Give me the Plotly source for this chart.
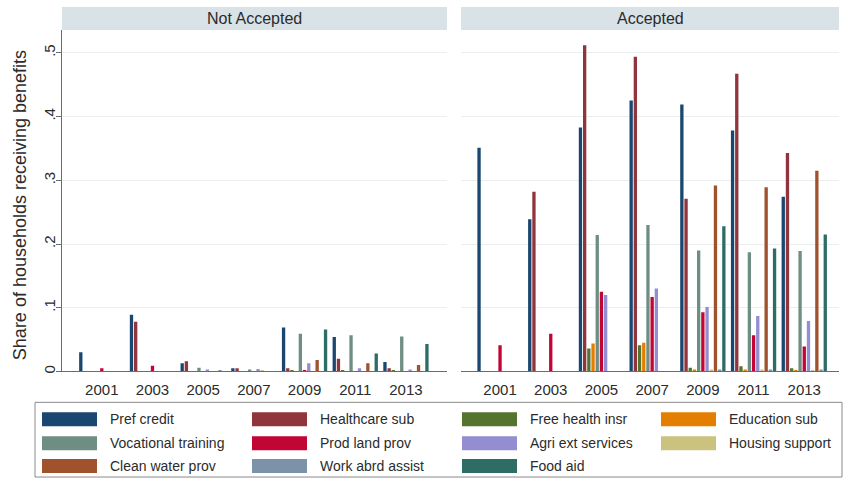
import plotly.graph_objects as go

# Survey years and benefit programmes
years = [2001, 2003, 2005, 2007, 2009, 2011, 2013]
programmes = [
    "Pref credit", "Healthcare sub", "Free health insr", "Education sub",
    "Vocational training", "Prod land prov", "Agri ext services", "Housing support",
    "Clean water prov", "Work abrd assist", "Food aid",
]
colors = [
    "#1a476f", "#90353b", "#55752f", "#e37e00",
    "#6e8e84", "#c10534", "#938dd2", "#cac27e",
    "#a0522d", "#7b92a8", "#2d6d66",
]

# Share of households receiving each benefit, by year
not_accepted = {
    "Pref credit":         [0.030, 0.089, 0.013, 0.005, 0.069, 0.054, 0.015],
    "Healthcare sub":      [0.000, 0.078, 0.016, 0.005, 0.005, 0.020, 0.005],
    "Free health insr":    [0.000, 0.000, 0.000, 0.000, 0.001, 0.001, 0.001],
    "Education sub":       [0.000, 0.000, 0.000, 0.000, 0.000, 0.000, 0.000],
    "Vocational training": [0.000, 0.000, 0.006, 0.003, 0.059, 0.057, 0.055],
    "Prod land prov":      [0.005, 0.009, 0.000, 0.000, 0.002, 0.000, 0.000],
    "Agri ext services":   [0.000, 0.000, 0.003, 0.004, 0.013, 0.005, 0.003],
    "Housing support":     [0.000, 0.000, 0.000, 0.002, 0.000, 0.000, 0.000],
    "Clean water prov":    [0.000, 0.000, 0.000, 0.000, 0.018, 0.013, 0.010],
    "Work abrd assist":    [0.000, 0.000, 0.002, 0.000, 0.000, 0.000, 0.000],
    "Food aid":            [0.000, 0.000, 0.000, 0.000, 0.066, 0.028, 0.043],
}
accepted = {
    "Pref credit":         [0.351, 0.239, 0.383, 0.425, 0.419, 0.378, 0.274],
    "Healthcare sub":      [0.000, 0.282, 0.512, 0.494, 0.271, 0.467, 0.343],
    "Free health insr":    [0.000, 0.000, 0.036, 0.041, 0.006, 0.008, 0.005],
    "Education sub":       [0.000, 0.000, 0.044, 0.045, 0.003, 0.003, 0.002],
    "Vocational training": [0.000, 0.000, 0.214, 0.230, 0.190, 0.187, 0.189],
    "Prod land prov":      [0.041, 0.059, 0.125, 0.117, 0.093, 0.057, 0.039],
    "Agri ext services":   [0.000, 0.000, 0.120, 0.130, 0.101, 0.087, 0.079],
    "Housing support":     [0.000, 0.000, 0.000, 0.000, 0.003, 0.003, 0.002],
    "Clean water prov":    [0.000, 0.000, 0.000, 0.000, 0.292, 0.289, 0.315],
    "Work abrd assist":    [0.000, 0.000, 0.000, 0.000, 0.003, 0.003, 0.003],
    "Food aid":            [0.000, 0.000, 0.000, 0.000, 0.228, 0.193, 0.215],
}
panel_titles = ["Not Accepted", "Accepted"]
y_ticks = [0, 0.1, 0.2, 0.3, 0.4, 0.5]
y_ticktext = ["0", ".1", ".2", ".3", ".4", ".5"]

W, H = 844, 485
FONT = "Liberation Sans, Arial, sans-serif"
TEXT = "#2b2b2b"


def px_x(p):
    return p / W


def px_y(p):
    return 1 - p / H


fig = go.Figure()
for name, col in zip(programmes, colors):
    fig.add_trace(go.Bar(x=years, y=not_accepted[name], name=name, marker_color=col,
                         marker_line_width=0, xaxis="x", yaxis="y", showlegend=False))
for name, col in zip(programmes, colors):
    fig.add_trace(go.Bar(x=years, y=accepted[name], name=name, marker_color=col,
                         marker_line_width=0, xaxis="x2", yaxis="y2", showlegend=False))

# panel geometry (pixels)
left_dom = (62, 447)
right_dom = (461, 839)
top_px, base_px = 30, 373
y_dom = [px_y(base_px), px_y(top_px)]
y_max = 0.536

xcommon = dict(
    tickvals=years, ticktext=[str(y) for y in years], ticks="", showgrid=False,
    zeroline=False, showline=True, linecolor="#6b6b6b", linewidth=1.3,
    ticklabelstandoff=4,
    tickfont=dict(family=FONT, size=15, color=TEXT), fixedrange=True,
)
ycommon = dict(
    range=[0, y_max], tickvals=y_ticks, showgrid=True, gridcolor="#e9eef0",
    gridwidth=1, zeroline=False, domain=y_dom, fixedrange=True,
)

fig.update_layout(
    width=W, height=H,
    margin=dict(l=0, r=0, t=0, b=0),
    paper_bgcolor="white", plot_bgcolor="white",
    barmode="group", bargap=0.089, bargroupgap=0.21,
    xaxis=dict(domain=[px_x(left_dom[0]), px_x(left_dom[1])], range=[1999.43, 2014.62],
               anchor="y", **xcommon),
    xaxis2=dict(domain=[px_x(right_dom[0]), px_x(right_dom[1])], range=[1999.46, 2014.37],
                anchor="y2", **xcommon),
    yaxis=dict(anchor="x", ticktext=y_ticktext, ticks="outside", ticklen=5,
               tickcolor="#6b6b6b", showline=True, linecolor="#6b6b6b", linewidth=1.3,
               tickangle=-90, ticklabelstandoff=-5,
               tickfont=dict(family=FONT, size=15, color=TEXT), **ycommon),
    yaxis2=dict(anchor="x2", showticklabels=False, ticks="", showline=False, **ycommon),
    font=dict(family=FONT, color=TEXT),
)

shapes = []
annotations = []

# strip headers above each panel
for (x0, x1), title in zip([left_dom, right_dom], panel_titles):
    shapes.append(dict(type="rect", xref="paper", yref="paper",
                       x0=px_x(x0), x1=px_x(x1), y0=px_y(30), y1=px_y(7),
                       fillcolor="#d8e2e7", line=dict(width=0), layer="below"))
    annotations.append(dict(xref="paper", yref="paper", x=px_x((x0 + x1) / 2), y=px_y(18.5),
                            text=title, showarrow=False, xanchor="center", yanchor="middle",
                            font=dict(family=FONT, size=16, color=TEXT)))

# y-axis title
annotations.append(dict(xref="paper", yref="paper", x=px_x(20), y=px_y(206),
                        text="Share of households receiving benefits", textangle=-90,
                        showarrow=False, xanchor="center", yanchor="middle",
                        font=dict(family=FONT, size=18, color=TEXT)))

# legend box with wide colour keys, four columns
shapes.append(dict(type="rect", xref="paper", yref="paper",
                   x0=px_x(35), x1=px_x(842), y0=px_y(479), y1=px_y(404),
                   line=dict(color="#8a8a8a", width=1), fillcolor="white"))
col_x = [42, 252, 462, 661]
row_y = [421, 445, 468]
key_w, key_h = 55, 14
for i, (name, col) in enumerate(zip(programmes, colors)):
    r, c = divmod(i, 4)
    x0, yc = col_x[c], row_y[r]
    shapes.append(dict(type="rect", xref="paper", yref="paper",
                       x0=px_x(x0), x1=px_x(x0 + key_w),
                       y0=px_y(yc + key_h / 2), y1=px_y(yc - key_h / 2),
                       fillcolor=col, line=dict(width=0)))
    annotations.append(dict(xref="paper", yref="paper", x=px_x(x0 + key_w + 11), y=px_y(yc),
                            text=name, showarrow=False, xanchor="left", yanchor="middle",
                            font=dict(family=FONT, size=14, color=TEXT)))

fig.update_layout(shapes=shapes, annotations=annotations)
fig.write_html("out.html")
